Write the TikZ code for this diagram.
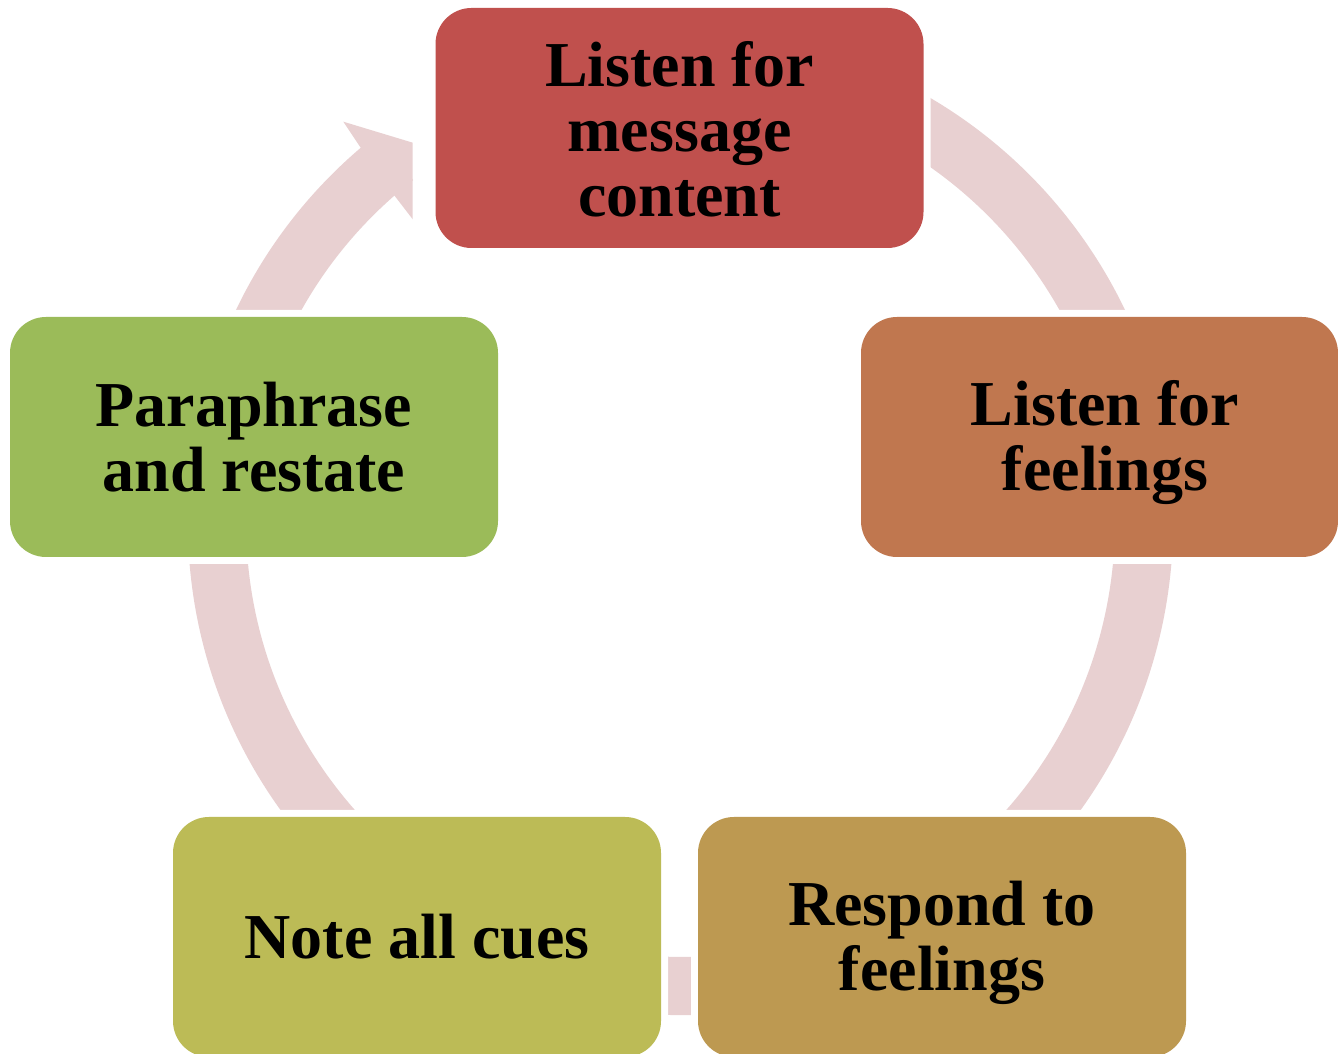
\documentclass[tikz,border=0pt]{standalone}
\usepackage{fontspec}
\setmainfont{Liberation Serif}
\definecolor{ringpink}{HTML}{E8D0D1}
\definecolor{cRed}{HTML}{C0504D}
\definecolor{cCopper}{HTML}{C0774F}
\definecolor{cOchre}{HTML}{BD9951}
\definecolor{cOlive}{HTML}{BCBB56}
\definecolor{cGreen}{HTML}{9BBB59}
\begin{document}
\begin{tikzpicture}[x=1pt,y=1pt,
  box/.style={rounded corners=36pt, minimum width=488pt, minimum height=240pt,
    inner sep=0pt, preaction={draw=white, line width=14pt}},
  lbl/.style={font=\fontsize{64pt}{65pt}\selectfont\bfseries, align=center, inner sep=0pt},
  ringarc/.style={draw=ringpink, line width=58.2pt}
]
\useasboundingbox (0,0) rectangle (1338,1054);
\fill[white] (0,0) rectangle (1338,1054);

% centre of the cycle ring
\coordinate (c) at (680.5,531.5);

% ring shaft, running from the arrow head round to the top step
\draw[ringarc] (c) ++(128:463.5pt) arc[start angle=128, end angle=450, radius=463.5pt];

% arrow head pointing at the top step
\coordinate (hb) at (343.3,932.3);
\coordinate (ht) at (412.7,911.3);
\coordinate (hl) at (412.7,834.7);
\coordinate (hi) at (394,859);
\coordinate (ho) at (360,907.3);
\fill[ringpink] (ho) -- (hb) -- (ht) -- (hl) -- (hi) -- cycle;

% steps of the cycle
\node[box, fill=cRed] (top) at (679.5,926) {};
\node[box, fill=cCopper, minimum width=477pt] (right) at (1099.5,617) {};
\node[box, fill=cOchre] (bright) at (942,117) {};
\node[box, fill=cOlive] (bleft) at (417,117) {};
\node[box, fill=cGreen] (left) at (254,617) {};

\node[lbl] (top-t) at (679.5,925) {Listen for\\message\\content};
\node[lbl] (right-t) at (1105,611) {Listen for\\feelings};
\node[lbl] (bright-t) at (942,111) {Respond to\\feelings};
\node[lbl] (bleft-t) at (417,117) {Note all cues};
\node[lbl] (left-t) at (254,617) {Paraphrase\\and restate};
\end{tikzpicture}
\end{document}
